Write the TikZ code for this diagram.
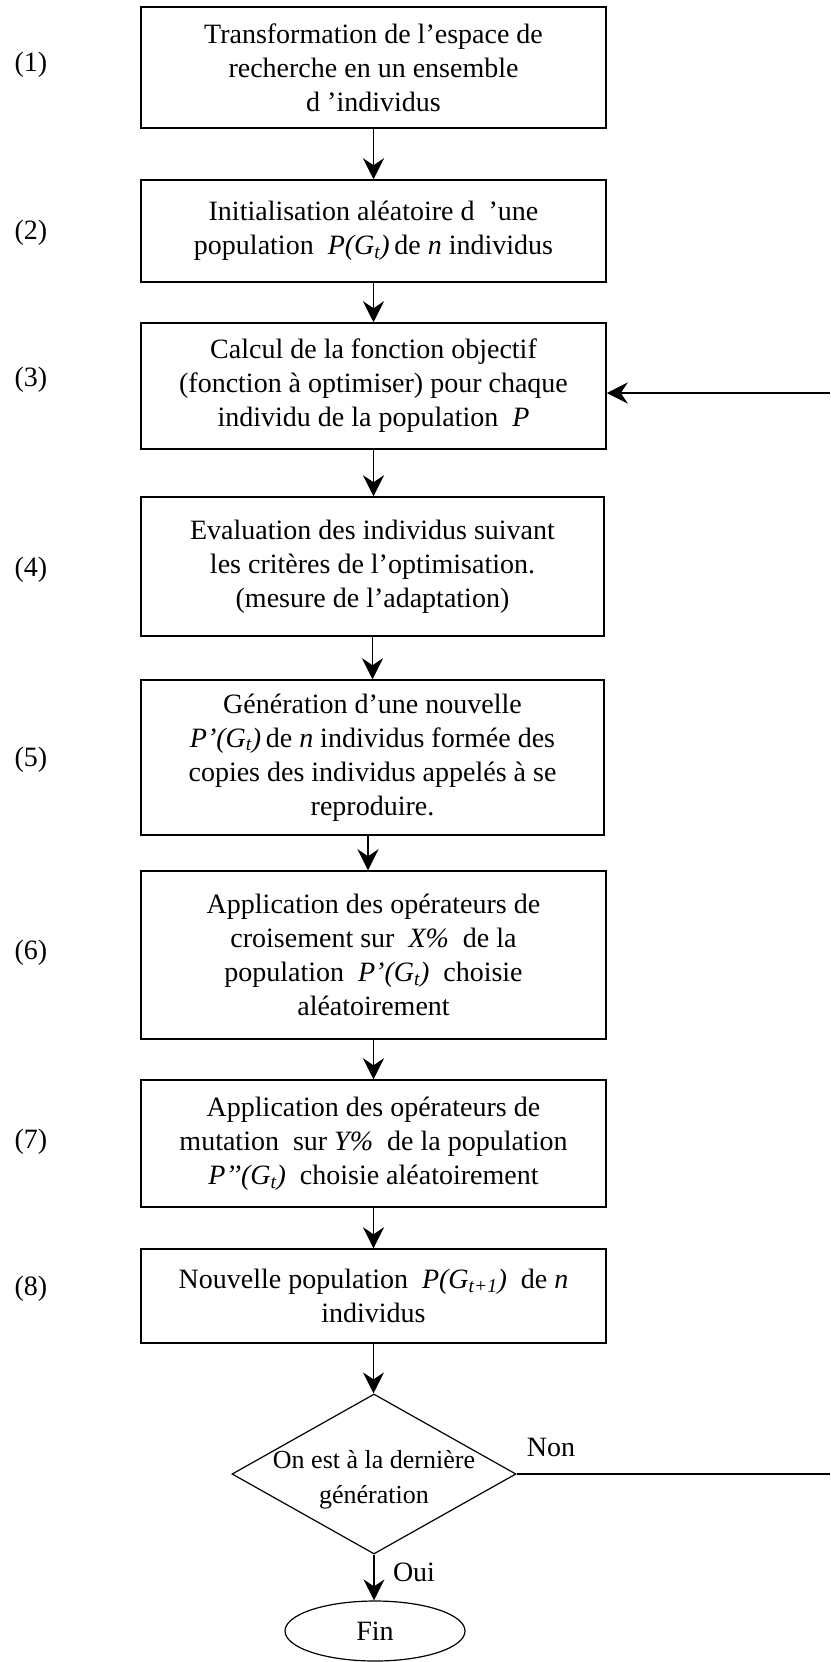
\documentclass[tikz,border=0pt]{standalone}
\usepackage{fontspec}
\setmainfont{Liberation Serif}
\usetikzlibrary{shapes.geometric,arrows.meta}
\newcommand\mysub[1]{\textsubscript{\textit{#1}}}
\begin{document}
\begin{tikzpicture}[x=1pt,y=-1pt,
  box/.style={draw, line width=1.5pt, rectangle, inner sep=0pt, align=center, font=\fontsize{28}{34}\selectfont},
  arr/.style={line width=1.2pt, -{Stealth[length=21pt,width=21pt,inset=7pt]}},
  lab/.style={font=\fontsize{28}{34}\selectfont, inner sep=0pt},
  plain/.style={line width=1.2pt}]
\useasboundingbox (0,0) rectangle (830,1662);
\node[box, minimum width=465pt, minimum height=121pt] (b1) at (373.5,67.5)
  {Transformation de l’espace de\\recherche en un ensemble\\d ’individus};
\node[box, minimum width=465pt, minimum height=102pt] (b2) at (373.5,231)
  {Initialisation aléatoire d\ \ ’une\\population\ \ \textit{P(G\mysub{t})}\,de \textit{n} individus};
\node[box, minimum width=465pt, minimum height=126pt] (b3) at (373.5,386)
  {Calcul de la fonction objectif\\(fonction à optimiser) pour chaque\\individu de la population\ \ \textit{P}};
\node[box, minimum width=463pt, minimum height=139pt] (b4) at (372.5,566.5)
  {Evaluation des individus suivant\\les critères de l’optimisation.\\(mesure de l’adaptation)};
\node[box, minimum width=463pt, minimum height=155pt] (b5) at (372.5,757.5)
  {Génération d’une nouvelle\\\textit{P’(G\mysub{t})}\,de \textit{n} individus formée des\\copies des individus appelés à se\\reproduire.};
\node[box, minimum width=465pt, minimum height=168pt] (b6) at (373.5,955)
  {Application des opérateurs de\\croisement sur\ \ \textit{X\%}\ \ de la\\population\ \ \textit{P’(G\mysub{t})}\ \ choisie\\aléatoirement};
\node[box, minimum width=465pt, minimum height=127pt] (b7) at (373.5,1143.5)
  {Application des opérateurs de\\mutation\ \ sur \textit{Y\%}\ \ de la population\\\textit{P’{}’(G\mysub{t})}\ \ choisie aléatoirement};
\node[box, minimum width=465pt, minimum height=94pt] (b8) at (373.5,1296)
  {Nouvelle population\ \ \textit{P(G\mysub{t+1})}\ \ de \textit{n}\\individus};
\node[diamond, draw, line width=1.2pt, minimum width=284pt, minimum height=160pt, inner sep=0pt] (d) at (374,1474) {};
\node[inner sep=0pt, align=center, font=\fontsize{26}{35}\selectfont] (dt) at ([yshift=-6pt]d.center) {On est à la dernière\\génération};
\node[ellipse, draw, line width=1.2pt, minimum width=180pt, minimum height=60pt, inner sep=0pt, font=\fontsize{28}{34}\selectfont] (fin) at (375,1631) {Fin};

\node[lab] (l1) at (31,65) {(1)};
\node[lab] (l2) at (31,233) {(2)};
\node[lab] (l3) at (31,380) {(3)};
\node[lab] (l4) at (31,570) {(4)};
\node[lab] (l5) at (31,760) {(5)};
\node[lab] (l6) at (31,953) {(6)};
\node[lab] (l7) at (31,1142) {(7)};
\node[lab] (l8) at (31,1289) {(8)};
\node[lab] (non) at (551,1447) {Non};
\node[lab] (oui) at (414,1572) {Oui};

\draw[arr] (b1.south) -- (b2.north);
\draw[arr] (b2.south) -- (b3.north);
\draw[arr] (b3.south) -- (b3.south |- b4.north);
\draw[arr] (b4.south) -- (b4.south |- b5.north);
\draw[arr] ([xshift=-4.5pt]b5.south) -- ([xshift=-5.5pt]b6.north);
\draw[arr] (b6.south) -- (b7.north);
\draw[arr] (b7.south) -- (b8.north);
\draw[arr] (b8.south) -- (b8.south |- d.north);
\draw[arr] (d.south) -- (d.south |- fin.north);
\coordinate (fbR) at (830,393);
\draw[arr] (fbR) -- (fbR -| b3.east);
\coordinate (nonR) at (830,1474);
\draw[plain] (d.east) -- (nonR);
\end{tikzpicture}
\end{document}
